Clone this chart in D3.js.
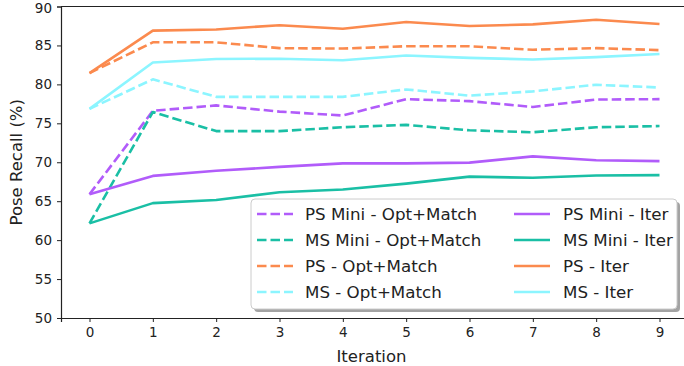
<!DOCTYPE html>
<html><head><meta charset="utf-8">
<script src="https://cdn.jsdelivr.net/npm/d3@7"></script>
<style>body{margin:0;background:#fff;}svg{display:block;font-family:"DejaVu Sans",sans-serif;}</style>
</head><body><svg id="c" width="684" height="366"></svg>
<script>
const iterations = [0,1,2,3,4,5,6,7,8,9];
const yTicks = [50,55,60,65,70,75,80,85,90];
const psMiniOpt = [65.9,76.6,77.3,76.5,76.0,78.1,77.85,77.1,78.05,78.1];
const msMiniOpt = [62.15,76.45,74.0,74.0,74.5,74.8,74.1,73.85,74.5,74.65];
const psOpt     = [81.45,85.4,85.4,84.65,84.6,84.9,84.9,84.45,84.65,84.4];
const msOpt     = [76.85,80.65,78.4,78.4,78.4,79.35,78.55,79.1,79.95,79.6];
const psMiniIter = [65.9,68.25,68.9,69.4,69.85,69.85,69.95,70.75,70.25,70.15];
const msMiniIter = [62.15,64.75,65.15,66.15,66.5,67.25,68.15,68.0,68.3,68.35];
const psIter     = [81.45,86.9,87.05,87.6,87.15,88.0,87.5,87.7,88.3,87.75];
const msIter     = [76.85,82.8,83.25,83.3,83.1,83.7,83.4,83.2,83.5,83.9];
const names = ["PS Mini - Opt+Match","MS Mini - Opt+Match","PS - Opt+Match","MS - Opt+Match",
               "PS Mini - Iter","MS Mini - Iter","PS - Iter","MS - Iter"];
const colors = ["#b15cfa","#1abfa5","#fb8a4e","#8cf5ff"];

const series = [
  {name:names[0], vals:psMiniOpt, color:colors[0], dash:true},
  {name:names[1], vals:msMiniOpt, color:colors[1], dash:true},
  {name:names[2], vals:psOpt, color:colors[2], dash:true},
  {name:names[3], vals:msOpt, color:colors[3], dash:true},
  {name:names[4], vals:psMiniIter, color:colors[0], dash:false},
  {name:names[5], vals:msMiniIter, color:colors[1], dash:false},
  {name:names[6], vals:psIter, color:colors[2], dash:false},
  {name:names[7], vals:msIter, color:colors[3], dash:false}
];

const svg = d3.select("#c");
const L = 61, R = 688, T = 6.5, B = 318;
const x = d3.scaleLinear().domain([-0.45, 9.45]).range([L, R]);
const y = d3.scaleLinear().domain([50, 90]).range([B, T]);

// axes
const xAxis = d3.axisBottom(x).tickValues(iterations).tickFormat(d3.format("d")).tickSizeOuter(0).tickSize(4).tickPadding(5);
const yAxis = d3.axisLeft(y).tickValues(yTicks).tickSizeOuter(0).tickSize(4).tickPadding(5);
const gx = svg.append("g").attr("transform",`translate(0,${B})`).call(xAxis);
const gy = svg.append("g").attr("transform",`translate(${L},0)`).call(yAxis);
[gx,gy].forEach(g=>{
  g.selectAll("text").attr("font-size",13.5).attr("fill","#222").attr("font-family","DejaVu Sans");
  g.selectAll("line").attr("stroke","#222").attr("stroke-width",1);
  g.select(".domain").attr("stroke","#222").attr("stroke-width",1.2);
});
// keep the top tick label inside the picture
gy.selectAll(".tick").filter(d=>d===90).select("text").attr("dy","0.42em");
// top & right spines
svg.append("line").attr("x1",L).attr("x2",R).attr("y1",T).attr("y2",T).attr("stroke","#222").attr("stroke-width",1.2);
svg.append("line").attr("x1",R).attr("x2",R).attr("y1",T).attr("y2",B).attr("stroke","#222").attr("stroke-width",1.2);

svg.append("text").attr("x",(L+R)/2 - 3).attr("y",362).attr("text-anchor","middle")
  .attr("font-size",16.5).attr("fill","#222").text("Iteration");
svg.append("text").attr("transform",`translate(22,${(T+B)/2}) rotate(-90)`).attr("text-anchor","middle")
  .attr("font-size",16.5).attr("fill","#222").text("Pose Recall (%)");

const line = d3.line().x((d,i)=>x(iterations[i])).y(d=>y(d));
svg.append("g").selectAll("path").data(series).join("path")
  .attr("d",d=>line(d.vals)).attr("fill","none").attr("stroke",d=>d.color)
  .attr("stroke-width",2.6).attr("stroke-dasharray",d=>d.dash?"9.5,4":null)
  .attr("stroke-linejoin","round");

// legend
const lx = 251, ly = 199, lw = 426, lh = 110;
const lg = svg.append("g");
lg.append("rect").attr("x",lx+3).attr("y",ly+3).attr("width",lw).attr("height",lh).attr("rx",4)
  .attr("fill","#8c8c8c").attr("opacity",0.8);
lg.append("rect").attr("x",lx).attr("y",ly).attr("width",lw).attr("height",lh).attr("rx",4)
  .attr("fill","#fff").attr("stroke","#cccccc").attr("stroke-width",1);
series.forEach((s,i)=>{
  const col = Math.floor(i/4), row = i%4;
  const hx = col===0 ? 257 : 514;
  const tx = col===0 ? 305 : 563;
  const yy = 214 + row*26;
  lg.append("line").attr("x1",hx).attr("x2",hx+36).attr("y1",yy).attr("y2",yy)
    .attr("stroke",s.color).attr("stroke-width",2.6).attr("stroke-dasharray",s.dash?"9.5,4":null);
  lg.append("text").attr("x",tx).attr("y",yy+6).attr("font-size",16.7).attr("fill","#222").text(s.name);
});
</script></body></html>
